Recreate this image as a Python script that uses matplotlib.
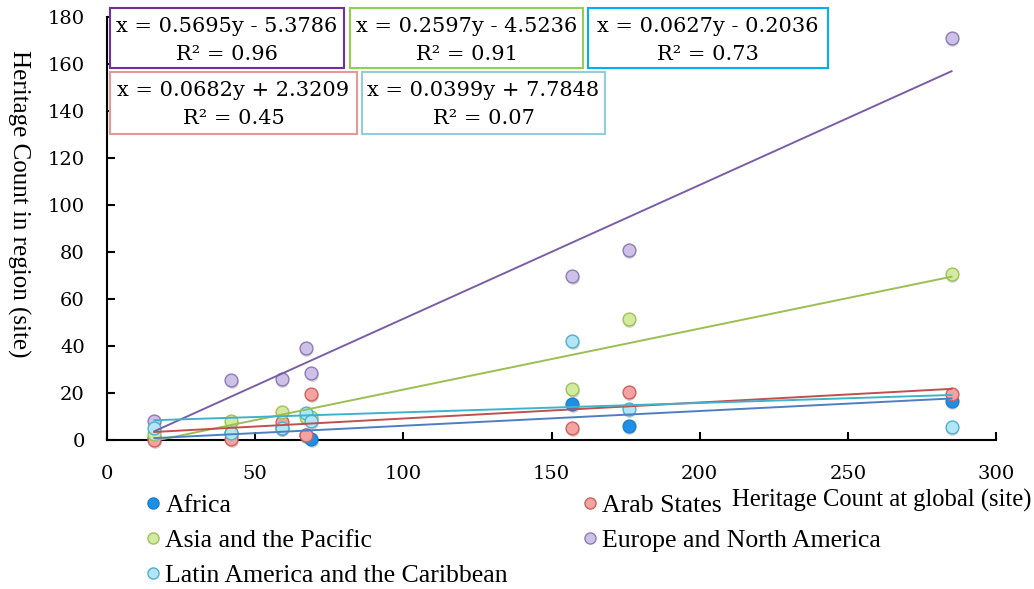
import matplotlib
matplotlib.use("Agg")
import matplotlib.pyplot as plt
import matplotlib.transforms as mtransforms
from matplotlib.lines import Line2D
from matplotlib.patches import Rectangle
import numpy as np

# ---- data ----
global_counts = [16, 42, 59, 67, 69, 157, 176, 285]
regions = ["Africa", "Arab States", "Asia and the Pacific",
           "Europe and North America", "Latin America and the Caribbean"]
africa = [1, 3, 5, 2, 0.5, 15.5, 6, 16.5]
arab_states = [0, 0.5, 7.5, 2, 19.5, 5, 20.5, 19.5]
asia_pacific = [2.5, 8, 12, 10, 10, 21.5, 51.5, 70.5]
europe_na = [8, 25.5, 26, 39, 28.5, 70, 81, 171]
latin_carib = [5, 3, 5, 11.5, 8, 42, 13, 5.5]
slopes = [0.0627, 0.0682, 0.2597, 0.5695, 0.0399]
intercepts = [-0.2036, 2.3209, -4.5236, -5.3786, 7.7848]
r_squared = [0.73, 0.45, 0.91, 0.96, 0.07]
x_ticks = [0, 50, 100, 150, 200, 250, 300]
y_ticks = [0, 20, 40, 60, 80, 100, 120, 140, 160, 180]

series = [africa, arab_states, asia_pacific, europe_na, latin_carib]
fills = ["#1e8fe3", "#f4a3a2", "#d3eba0", "#cdc1e8", "#b0e6f6"]
edges = ["#1a7fd0", "#d0605c", "#9cc25a", "#8f7ab8", "#4fb0cc"]
line_cols = ["#4f7fc0", "#c0504d", "#9bbf52", "#7b5ea6", "#3fb3cb"]
box_cols = ["#00b0f0", "#e29a98", "#92d050", "#7030a0", "#92cddc"]

W, H = 1034, 589
fig = plt.figure(figsize=(W / 100, H / 100), dpi=100)
ax = fig.add_axes([107 / W, 1 - 440 / H, (996 - 107) / W, (440 - 17) / H])

serif = ["Liberation Serif", "DejaVu Serif"]
eqfont = ["DejaVu Serif"]

shadow_tr = mtransforms.offset_copy(ax.transData, fig=fig, x=0.5, y=-2.0, units="dots")
for i, vals in enumerate(series):
    ax.scatter(global_counts, vals, s=85, color="#808080", alpha=0.35,
               linewidths=0, transform=shadow_tr, zorder=2, clip_on=False)
    ax.scatter(global_counts, vals, s=85, facecolor=fills[i], edgecolor=edges[i],
               linewidths=1.0, zorder=3, clip_on=False)

xr = np.array([min(global_counts), max(global_counts)])
order = [3, 2, 0, 1, 4]
for i in order:
    ax.plot(xr, slopes[i] * xr + intercepts[i], color=line_cols[i], lw=1.4, zorder=4)

ax.set_xlim(0, 300)
ax.set_ylim(0, 180)
ax.set_xticks(x_ticks)
ax.set_yticks(y_ticks)
for s in ["top", "right"]:
    ax.spines[s].set_visible(False)
for s in ["left", "bottom"]:
    ax.spines[s].set_linewidth(1.5)
ax.tick_params(direction="in", length=6, width=1.5, labelsize=14)
ax.tick_params(axis="x", pad=18)
ax.tick_params(axis="y", pad=16)
for lab in ax.get_xticklabels() + ax.get_yticklabels():
    lab.set_family(eqfont)

fig.text(1032 / W, 1 - 500 / H, "Heritage Count at global (site)", family=serif,
         fontsize=17.7, ha="right", va="center")
fig.text(19 / W, 1 - 204 / H, "Heritage Count in region (site)", family=serif,
         fontsize=18, rotation=270, ha="center", va="center")

# equation boxes: (series index, left, top, right, bottom) in px
boxes = [(3, 110, 8, 344, 68), (2, 350, 8, 583, 68), (0, 588, 8, 828, 68),
         (1, 110, 72, 357, 134), (4, 362, 72, 605, 134)]
for i, l, t, r, b in boxes:
    fig.add_artist(Rectangle((l / W, 1 - b / H), (r - l) / W, (b - t) / H,
                             transform=fig.transFigure, facecolor="white",
                             edgecolor=box_cols[i], lw=1.5, zorder=10))
    sign = "+" if intercepts[i] >= 0 else "-"
    eq = f"x = {slopes[i]:.4f}y {sign} {abs(intercepts[i]):.4f}"
    cx = (l + r) / 2 / W
    fig.text(cx, 1 - (t + 19) / H, eq, family=eqfont, fontsize=15, ha="center",
             va="center", zorder=11)
    fig.text(cx, 1 - (t + 46) / H, f"R² = {r_squared[i]:.2f}", family=eqfont,
             fontsize=15, ha="center", va="center", zorder=11)

handles = [Line2D([], [], ls="", marker="o", markersize=8, markerfacecolor=fills[i],
                  markeredgecolor=edges[i], markeredgewidth=1.0) for i in range(5)]
leg_kw = dict(frameon=False, handlelength=0.55, handletextpad=0.2, labelspacing=0.47,
              borderaxespad=0, borderpad=0, prop={"family": serif, "size": 18.5})
leg1 = fig.legend([handles[0], handles[2], handles[4]], [regions[0], regions[2], regions[4]],
                  loc="upper left", bbox_to_anchor=(146 / W, 1 - 494 / H), **leg_kw)
leg2 = fig.legend([handles[1], handles[3]], [regions[1], regions[3]],
                  loc="upper left", bbox_to_anchor=(583 / W, 1 - 494 / H), **leg_kw)

fig.savefig("out.png", dpi=100)
